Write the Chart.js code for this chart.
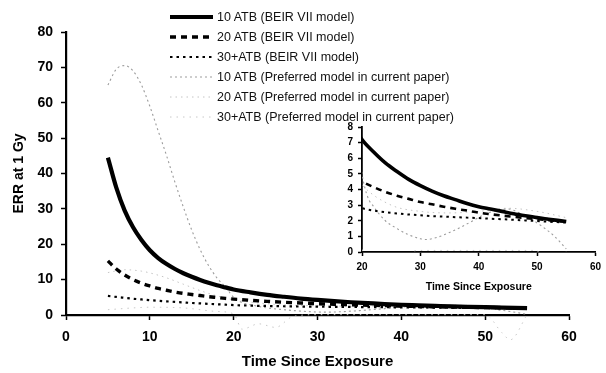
<!DOCTYPE html>
<html><head><meta charset="utf-8">
<script src="https://cdn.jsdelivr.net/npm/chart.js@4.4.0/dist/chart.umd.min.js"></script>
<style>
html,body{margin:0;padding:0;background:#fff;}
#wrap{position:relative;width:606px;height:373px;overflow:hidden;font-family:"Liberation Sans",Arial,sans-serif;}
#main{position:absolute;left:0;top:0;}
#inset{position:absolute;left:330px;top:115px;}
#legend{position:absolute;left:0;top:0;}
.row{position:absolute;left:168px;height:16px;white-space:nowrap;font-size:12.5px;color:#111;line-height:16px;}
.row svg{position:absolute;left:0;top:0;}
.row span{position:absolute;left:49px;top:0;}
</style></head><body>
<div id="wrap"><canvas id="main" width="606" height="373"></canvas><canvas id="inset" width="276" height="185"></canvas><div id="legend"></div></div>
<script>
// ---- data ----
const seriesLabels = [
  "10 ATB (BEIR VII model)",
  "20 ATB (BEIR VII model)",
  "30+ATB (BEIR VII model)",
  "10 ATB (Preferred model in current paper)",
  "20 ATB (Preferred model in current paper)",
  "30+ATB (Preferred model in current paper)"
];
const timeBeir = [5,6,7,8,9,10,11,12,13,14,15,16,17,18,19,20,22,24,26,28,30,32,34,36,38,40,42,44,46,48,50,52,55];
const beir10 = [44.5,36,29.5,24.8,21.2,18.3,16.1,14.4,13,11.8,10.8,9.9,9.1,8.4,7.8,7.2,6.4,5.7,5.15,4.65,4.25,3.9,3.6,3.35,3.1,2.9,2.75,2.6,2.45,2.32,2.2,2.1,1.95];
const beir20 = [15.3,13,11.3,10,9,8.2,7.5,7.0,6.5,6.1,5.8,5.5,5.2,4.95,4.7,4.5,4.15,3.85,3.6,3.4,3.2,3.05,2.9,2.77,2.65,2.52,2.42,2.33,2.25,2.17,2.1,2.03,1.95];
const beir30 = [5.4,5.1,4.85,4.6,4.4,4.2,4.0,3.85,3.7,3.55,3.4,3.28,3.15,3.03,2.92,2.8,2.65,2.55,2.47,2.4,2.35,2.3,2.27,2.23,2.2,2.17,2.13,2.1,2.06,2.02,1.98,1.94,1.88];
const timePref10 = [5,6,7,8,9,10,11,12,13,14,15,16,17,18,19,20,21,22,24,26,28,30,31,33,35,37,39,41,43,45,47,49,51,53,55];
const pref10 = [65,69.5,70.5,69,65,59,52,45,37.5,30.5,24,18.5,14,10.5,8,5,3.5,2.9,2.0,1.5,1.1,0.85,0.8,0.95,1.25,1.6,2.0,2.4,2.65,2.75,2.5,2.1,1.6,1.0,0.2];
const timePref20 = [5,7,9,10,12,14,16,18,20,25,30,35,40,45,50,55];
const pref20 = [12,12.8,12.4,11.9,10.5,8.7,6.9,5.4,4.3,3.0,2.6,2.5,2.6,2.8,2.6,2.2];
const timePref30 = [5,8,10,14,18,20,21,23,25,27,30,35,40,45,50,52,53,55];
const pref30 = [1.5,2.0,2.2,2.0,1.0,0.3,-4,-2.5,-3.5,-0.5,0.1,0.1,0.1,0.1,0.1,-5,-7,0.1];
const mainXTicks = [0,10,20,30,40,50,60];
const mainYTicks = [0,10,20,30,40,50,60,70,80];
const insetXTicks = [20,30,40,50,60];
const insetYTicks = [0,1,2,3,4,5,6,7,8];

// ---- styles ----
const FONT = "'Liberation Sans', Arial, sans-serif";
Chart.defaults.font.family = FONT;
const zip = (t, v) => t.map((x, i) => ({x: x, y: v[i]}));
const seriesData = [zip(timeBeir, beir10), zip(timeBeir, beir20), zip(timeBeir, beir30),
                    zip(timePref10, pref10), zip(timePref20, pref20), zip(timePref30, pref30)];
const styles = [
  {color:'#000', width:4.2, dash:[], iw:3.6},
  {color:'#000', width:3.4, dash:[6,5], iw:2.6},
  {color:'#000', width:2.2, dash:[2.5,4], iw:2},
  {color:'#9c9c9c', width:1.1, dash:[2,3], iw:1.1},
  {color:'#c4c4c4', width:1, dash:[1.5,4], iw:1},
  {color:'#c8c8c8', width:1, dash:[1.5,5], iw:1}
];
function makeSets(inset) {
  return seriesData.map((d, i) => ({
    label: seriesLabels[i], data: d,
    borderColor: styles[i].color, backgroundColor: styles[i].color,
    borderWidth: inset ? styles[i].iw : styles[i].width,
    borderDash: styles[i].dash, pointRadius: 0, fill: false,
    cubicInterpolationMode: 'monotone',
    clip: (!inset && i === 5) ? false : undefined
  }));
}
function tickCb(list) {
  return function(scale) { scale.ticks = list.map(v => ({value: v})); };
}
function axis(min, max, list, o) {
  return {
    type: 'linear', min: min, max: max,
    afterBuildTicks: tickCb(list),
    ticks: {color:'#000', font:{size:o.fs, weight:'bold'}, padding:o.pad, maxRotation:0, autoSkip:false},
    grid: {display:true, drawOnChartArea:false, drawTicks:true, tickLength:o.tl, tickColor:'#000', tickWidth:1.5},
    border: {display:true, color:'#000', width:o.bw},
    title: o.title ? {display:true, text:o.title, color:'#000', font:{size:o.tfs, weight:'bold'}, padding:o.tpad} : {display:false},
    afterFit: o.fit
  };
}
const mainChart = new Chart(document.getElementById('main'), {
  type: 'line',
  data: {datasets: makeSets(false)},
  options: {
    responsive:false, animation:false, devicePixelRatio:1,
    layout: {padding:{top:32, right:37, left:0, bottom:0}},
    plugins: {legend:{display:false}, tooltip:{enabled:false}},
    scales: {
      x: axis(0, 60, mainXTicks, {fs:14, pad:9, tl:5, bw:2.2, title:'Time Since Exposure', tfs:15, tpad:{top:2, bottom:2}, fit:s => {s.height = 58;}}),
      y: axis(0, 80, mainYTicks, {fs:14, pad:8, tl:5, bw:2.2, title:'ERR at 1 Gy', tfs:14, tpad:{top:10.5, bottom:0}, fit:s => {s.width = 66;}})
    }
  }
});
const insetChart = new Chart(document.getElementById('inset'), {
  type: 'line',
  data: {datasets: makeSets(true)},
  options: {
    responsive:false, animation:false, devicePixelRatio:1,
    layout: {padding:{top:12, right:4, left:0, bottom:0}},
    plugins: {legend:{display:false}, tooltip:{enabled:false}},
    scales: {
      x: axis(20, 60, insetXTicks, {fs:10, pad:5, tl:4, bw:1.8, title:'Time Since Exposure', tfs:10.5, tpad:{top:2, bottom:7}, fit:s => {s.height = 48;}}),
      y: axis(0, 8, insetYTicks, {fs:10, pad:5, tl:4, bw:1.8, fit:s => {s.width = 32;}})
    }
  }
});
// ---- HTML legend built from the datasets ----
const legend = document.getElementById('legend');
mainChart.data.datasets.forEach((ds, i) => {
  const row = document.createElement('div');
  row.className = 'row';
  row.style.top = (8.5 + 20 * i) + 'px';
  const svgNS = 'http://www.w3.org/2000/svg';
  const svg = document.createElementNS(svgNS, 'svg');
  svg.setAttribute('width', '48'); svg.setAttribute('height', '16');
  const ln = document.createElementNS(svgNS, 'line');
  ln.setAttribute('x1', '2'); ln.setAttribute('x2', '45');
  ln.setAttribute('y1', '8'); ln.setAttribute('y2', '8');
  ln.setAttribute('stroke', ds.borderColor);
  ln.setAttribute('stroke-width', ds.borderWidth);
  if (ds.borderDash.length) ln.setAttribute('stroke-dasharray', ds.borderDash.join(' '));
  svg.appendChild(ln);
  const sp = document.createElement('span');
  sp.textContent = ds.label;
  row.appendChild(svg); row.appendChild(sp);
  legend.appendChild(row);
});
</script>
</body></html>
